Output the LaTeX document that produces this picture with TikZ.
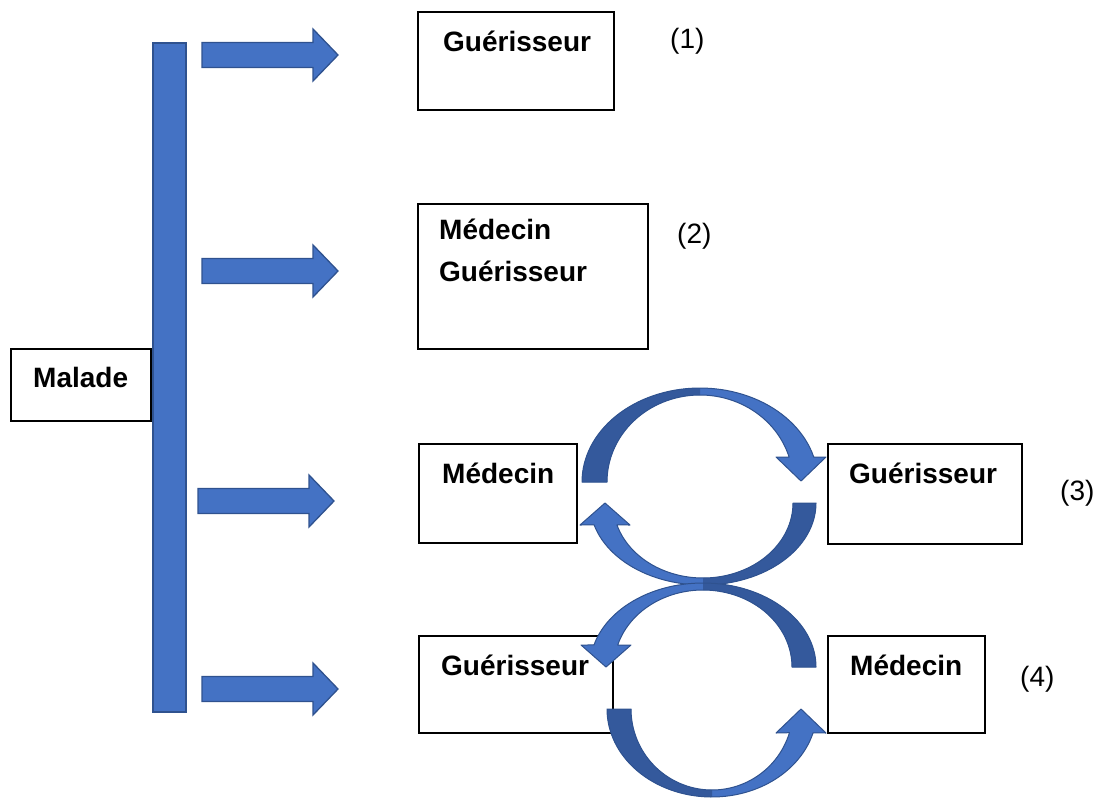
\documentclass[tikz,border=0pt]{standalone}
\usepackage{fontspec}
\setmainfont{Liberation Sans}
\definecolor{arrowblue}{HTML}{4472C4}
\definecolor{arrowedge}{HTML}{2F528F}
\definecolor{arrowdark}{HTML}{34599C}
\begin{document}
\begin{tikzpicture}[x=1pt,y=-1pt,
  box/.style={draw=black, line width=1.2pt, inner sep=0pt},
  lbl/.style={font=\fontsize{28}{34}\selectfont\bfseries, anchor=base west, inner sep=0pt},
  num/.style={font=\fontsize{28}{34}\selectfont, anchor=base west, inner sep=0pt},
  blk/.style={fill=arrowblue, draw=arrowedge, line width=1.3pt, line join=miter},
  lightpart/.style={fill=arrowblue},
  darkpart/.style={fill=arrowdark},
  rim/.style={draw=arrowedge, line width=1pt, line join=round},
  hblock/.pic={\draw[blk] (0,-12.5) -- (111,-12.5) -- (111,-26) -- (136,0) -- (111,26) -- (111,12.5) -- (0,12.5) -- cycle;}
]
\useasboundingbox (0,0) rectangle (1099,798);

% boxes
\node[box, line width=2pt, minimum width=196pt, minimum height=98pt] (b1) at (516,61) {};
\node[box, minimum width=230pt, minimum height=145pt] (b2) at (533,276.5) {};
\node[box, minimum width=140pt, minimum height=72pt] (mal) at (81,385) {};
\node[box, minimum width=158pt, minimum height=99pt] (b3l) at (498,493.5) {};
\node[box, minimum width=194pt, minimum height=100pt] (b3r) at (925,494) {};
\node[box, minimum width=194pt, minimum height=97pt] (b4l) at (516,684.5) {};
\node[box, minimum width=157pt, minimum height=97pt] (b4r) at (906.5,684.5) {};

% texts
\node[lbl] (t1) at (443,51) {Guérisseur};
\node[lbl] (t2a) at (439,239) {Médecin};
\node[lbl] (t2b) at (439,281) {Guérisseur};
\node[lbl] (tm) at (33,387) {Malade};
\node[lbl] (t3l) at (442,483) {Médecin};
\node[lbl] (t3r) at (849,483) {Guérisseur};
\node[lbl] (t4l) at (441,675) {Guérisseur};
\node[lbl] (t4r) at (850,675) {Médecin};

\node[num] (n1) at (670,48) {(1)};
\node[num] (n2) at (677,243) {(2)};
\node[num] (n3) at (1060,500) {(3)};
\node[num] (n4) at (1020,686) {(4)};

% vertical bar
\node[fill=arrowblue, draw=arrowedge, line width=1.3pt, minimum width=33pt, minimum height=669pt, inner sep=0pt] (bar) at (169.5,377.5) {};

% block arrows
\pic at (202,55) {hblock};
\pic at (202,271) {hblock};
\pic at (198,501) {hblock};
\pic at (202,689) {hblock};

% circular arrow A (top of upper pair)
\fill[lightpart] plot[domain=180:344.6,samples=60] ({700+118*cos(\x)},{482+94*sin(\x)}) -- (826,457) -- (801,481) -- (776,457) -- plot[domain=343.3:180,samples=60] ({700+93*cos(\x)},{482+87*sin(\x)}) -- cycle;
\fill[darkpart] plot[domain=180:270,samples=40] ({700+118*cos(\x)},{482+94*sin(\x)}) -- plot[domain=270:180,samples=40] ({700+93*cos(\x)},{482+87*sin(\x)}) -- cycle;
\draw[rim] plot[domain=180:344.6,samples=60] ({700+118*cos(\x)},{482+94*sin(\x)}) -- (826,457) -- (801,481) -- (776,457) -- plot[domain=343.3:180,samples=60] ({700+93*cos(\x)},{482+87*sin(\x)}) -- cycle;

% circular arrow B (bottom of upper pair)
\fill[lightpart] plot[domain=0:164.5,samples=60] ({703+113*cos(\x)},{503+82*sin(\x)}) -- (580,525) -- (605,503) -- (630,525) -- plot[domain=163:0,samples=60] ({703+90*cos(\x)},{503+75*sin(\x)}) -- cycle;
\fill[darkpart] plot[domain=0:90,samples=40] ({703+113*cos(\x)},{503+82*sin(\x)}) -- plot[domain=90:0,samples=40] ({703+90*cos(\x)},{503+75*sin(\x)}) -- cycle;
\draw[rim] plot[domain=0:164.5,samples=60] ({703+113*cos(\x)},{503+82*sin(\x)}) -- (580,525) -- (605,503) -- (630,525) -- plot[domain=163:0,samples=60] ({703+90*cos(\x)},{503+75*sin(\x)}) -- cycle;

% circular arrow C (top of lower pair)
\fill[lightpart] plot[domain=360:195.2,samples=60] ({703+113*cos(\x)},{667+84*sin(\x)}) -- (581,645) -- (606,667) -- (631,645) -- plot[domain=196.6:360,samples=60] ({703+89*cos(\x)},{667+77*sin(\x)}) -- cycle;
\fill[darkpart] plot[domain=360:270,samples=40] ({703+113*cos(\x)},{667+84*sin(\x)}) -- plot[domain=270:360,samples=40] ({703+89*cos(\x)},{667+77*sin(\x)}) -- cycle;
\draw[rim] plot[domain=360:195.2,samples=60] ({703+113*cos(\x)},{667+84*sin(\x)}) -- (581,645) -- (606,667) -- (631,645) -- plot[domain=196.6:360,samples=60] ({703+89*cos(\x)},{667+77*sin(\x)}) -- cycle;

% circular arrow D (bottom of lower pair)
\fill[lightpart] plot[domain=180:15.7,samples=60] ({712+105*cos(\x)},{709+88*sin(\x)}) -- (826,733) -- (801,709) -- (776,733) -- plot[domain=17:180,samples=60] ({712+81*cos(\x)},{709+81*sin(\x)}) -- cycle;
\fill[darkpart] plot[domain=180:90,samples=40] ({712+105*cos(\x)},{709+88*sin(\x)}) -- plot[domain=90:180,samples=40] ({712+81*cos(\x)},{709+81*sin(\x)}) -- cycle;
\draw[rim] plot[domain=180:15.7,samples=60] ({712+105*cos(\x)},{709+88*sin(\x)}) -- (826,733) -- (801,709) -- (776,733) -- plot[domain=17:180,samples=60] ({712+81*cos(\x)},{709+81*sin(\x)}) -- cycle;

\end{tikzpicture}
\end{document}
